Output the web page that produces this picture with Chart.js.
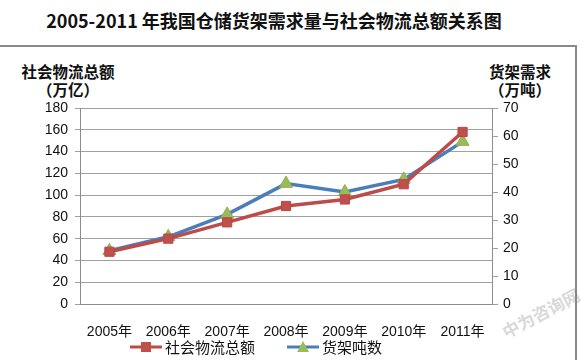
<!DOCTYPE html>
<html>
<head>
<meta charset="utf-8">
<script src="https://cdn.jsdelivr.net/npm/chart.js@4/dist/chart.umd.min.js"></script>
<style>
  html, body { margin:0; padding:0; background:#fff; }
  #wrap { position:relative; width:584px; height:360px; overflow:hidden; font-family:"Noto Sans CJK SC", sans-serif; color:#111; }
  #frame { position:absolute; left:-2px; top:45px; width:579px; height:340px; border:2px solid #8a8a8a; box-sizing:border-box; }
  #title { position:absolute; left:0; width:548px; top:8px; text-align:center; font-size:18px; font-weight:bold; line-height:24px; }
  .ax { position:absolute; font-size:15.5px; font-weight:bold; line-height:18px; text-align:center; }
  #axL { left:18px; top:62px; width:100px; }
  #axR { left:484px; top:62px; width:72px; }
  #mark { position:absolute; left:498px; top:300px; transform:rotate(-28deg); color:rgba(120,120,120,.3); font-size:17px; font-weight:bold; white-space:nowrap; }
  canvas { position:absolute; left:0; top:0; }
</style>
</head>
<body>
<div id="wrap">
  <div id="frame"></div>
  <div id="title">2005-2011 年我国仓储货架需求量与社会物流总额关系图</div>
  <div class="ax" id="axL">社会物流总额<br>（万亿）</div>
  <div class="ax" id="axR">货架需求<br>（万吨）</div>
  <div id="mark">中为咨询网</div>
  <canvas id="c" width="584" height="360"></canvas>
</div>
<script>
// data
const years = ['2005年','2006年','2007年','2008年','2009年','2010年','2011年'];
const logisticsTotal = [48, 60, 75, 90, 96, 110, 158];   // 万亿, left axis
const shelfTons = [19, 24, 32, 43, 40, 44.5, 58];        // 万吨, right axis
const seriesNames = ['社会物流总额', '货架吨数'];

const tickFont = { family:'"Liberation Sans", "Noto Sans CJK SC", sans-serif', size:14 };

// excel style legend: line with marker in the middle
const lineLegend = {
  id:'lineLegend',
  afterDraw(chart){
    const ctx = chart.ctx;
    const y = 347;
    const starts = [130, 287];
    ctx.save();
    chart.data.datasets.forEach((ds,i)=>{
      const x = starts[i];
      ctx.strokeStyle = ds.borderColor; ctx.lineWidth = 3;
      ctx.beginPath(); ctx.moveTo(x, y); ctx.lineTo(x+32, y); ctx.stroke();
      ctx.fillStyle = ds.pointBackgroundColor;
      ctx.beginPath();
      if (ds.pointStyle === 'rect') { ctx.rect(x+11, y-5, 10, 10); }
      else { ctx.moveTo(x+16, y-6); ctx.lineTo(x+22, y+5); ctx.lineTo(x+10, y+5); ctx.closePath(); }
      ctx.fill();
      ctx.fillStyle = '#111';
      ctx.font = '15px "Noto Sans CJK SC", sans-serif';
      ctx.textBaseline = 'middle';
      ctx.fillText(ds.label, x+35, y);
    });
    ctx.restore();
  }
};

new Chart(document.getElementById('c'), {
  type:'line',
  data:{
    labels: years,
    datasets:[
      { label: seriesNames[0], data: logisticsTotal, yAxisID:'yL',
        borderColor:'#BE4B48', borderWidth:3.5, pointStyle:'rect', pointRadius:6.5,
        pointBackgroundColor:'#C0504D', pointBorderColor:'#B84744', pointBorderWidth:1, tension:0 },
      { label: seriesNames[1], data: shelfTons, yAxisID:'yR',
        borderColor:'#4A7EBB', borderWidth:3.5, pointStyle:'triangle', pointRadius:7.5,
        pointBackgroundColor:'#9BBB59', pointBorderColor:'#8FAF4E', pointBorderWidth:1, tension:0 }
    ]
  },
  options:{
    responsive:false, animation:false,
    layout:{ padding:{ top:108, bottom:0, left:0, right:0 } },
    plugins:{ legend:{ display:false }, title:{ display:false }, tooltip:{ enabled:false } },
    scales:{
      x:{
        offset:true,
        grid:{ display:false, offset:true },
        border:{ display:true, color:'#8c8c8c', width:1 },
        ticks:{ font:tickFont, color:'#111', padding:12, maxRotation:0, autoSkip:false },
        afterFit(s){ s.height = 56; }
      },
      yL:{
        position:'left', min:0, max:180,
        ticks:{ stepSize:20, font:tickFont, color:'#111', padding:7 },
        grid:{ color:'#a0a0a0', lineWidth:1, tickLength:5 },
        border:{ color:'#8c8c8c' },
        afterFit(s){ s.width = 80; }
      },
      yR:{
        position:'right', min:0, max:70,
        ticks:{ stepSize:10, font:tickFont, color:'#111', padding:5 },
        grid:{ drawOnChartArea:false, color:'#a0a0a0', tickLength:6 },
        border:{ color:'#8c8c8c' },
        afterFit(s){ s.width = 92; }
      }
    }
  },
  plugins:[lineLegend]
});
</script>
</body>
</html>
